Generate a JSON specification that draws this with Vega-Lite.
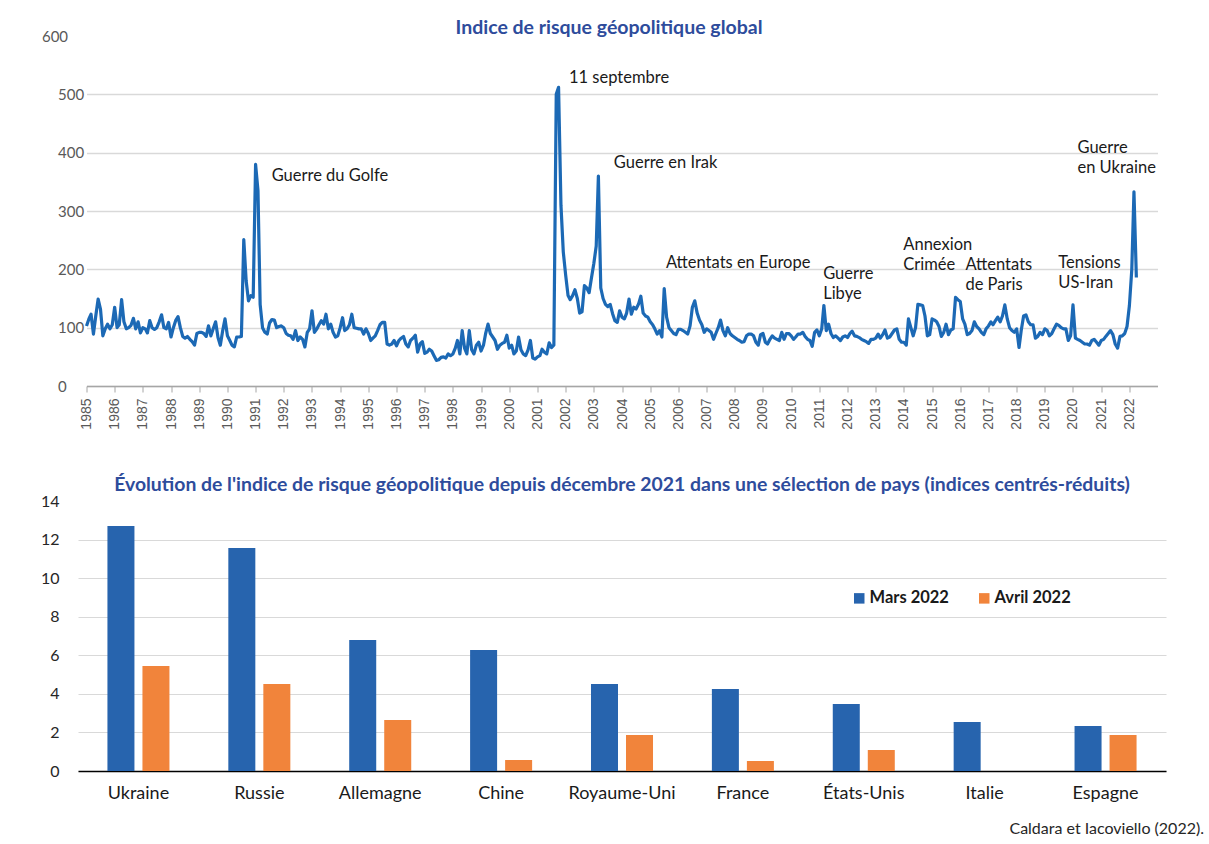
{
  "$schema": "https://vega.github.io/schema/vega-lite/v6.json",
  "background": "white",
  "padding": {"left": 40, "top": 17, "right": 2, "bottom": 6},
  "bounds": "flush",
  "center": true,
  "spacing": 115,
  "config": {"view": {"stroke": null}, "font": "Lato"},
  "title": {"text": "Caldara et Iacoviello (2022).", "orient": "bottom", "anchor": "end", "fontSize": 16, "fontWeight": "normal", "color": "#262626", "font": "Lato", "offset": 19, "dx": 38},
  "datasets": {
    "gpr": [
      {"d":"1985-01","v":103},{"d":"1985-02","v":115},{"d":"1985-03","v":123},{"d":"1985-04","v":89},{"d":"1985-05","v":120},{"d":"1985-06","v":149},{"d":"1985-07","v":132},{"d":"1985-08","v":86},{"d":"1985-09","v":98},{"d":"1985-10","v":106},{"d":"1985-11","v":98},{"d":"1985-12","v":105},
      {"d":"1986-01","v":135},{"d":"1986-02","v":100},{"d":"1986-03","v":105},{"d":"1986-04","v":148},{"d":"1986-05","v":110},{"d":"1986-06","v":98},{"d":"1986-07","v":100},{"d":"1986-08","v":104},{"d":"1986-09","v":116},{"d":"1986-10","v":98},{"d":"1986-11","v":110},{"d":"1986-12","v":91},
      {"d":"1987-01","v":100},{"d":"1987-02","v":98},{"d":"1987-03","v":91},{"d":"1987-04","v":112},{"d":"1987-05","v":100},{"d":"1987-06","v":97},{"d":"1987-07","v":100},{"d":"1987-08","v":110},{"d":"1987-09","v":122},{"d":"1987-10","v":100},{"d":"1987-11","v":98},{"d":"1987-12","v":109},
      {"d":"1988-01","v":84},{"d":"1988-02","v":100},{"d":"1988-03","v":112},{"d":"1988-04","v":119},{"d":"1988-05","v":100},{"d":"1988-06","v":85},{"d":"1988-07","v":82},{"d":"1988-08","v":85},{"d":"1988-09","v":80},{"d":"1988-10","v":76},{"d":"1988-11","v":70},{"d":"1988-12","v":90},
      {"d":"1989-01","v":92},{"d":"1989-02","v":92},{"d":"1989-03","v":90},{"d":"1989-04","v":85},{"d":"1989-05","v":103},{"d":"1989-06","v":86},{"d":"1989-07","v":98},{"d":"1989-08","v":110},{"d":"1989-09","v":83},{"d":"1989-10","v":70},{"d":"1989-11","v":95},{"d":"1989-12","v":115},
      {"d":"1990-01","v":86},{"d":"1990-02","v":78},{"d":"1990-03","v":70},{"d":"1990-04","v":67},{"d":"1990-05","v":84},{"d":"1990-06","v":84},{"d":"1990-07","v":85},{"d":"1990-08","v":251},{"d":"1990-09","v":180},{"d":"1990-10","v":146},{"d":"1990-11","v":155},{"d":"1990-12","v":152},
      {"d":"1991-01","v":380},{"d":"1991-02","v":335},{"d":"1991-03","v":140},{"d":"1991-04","v":100},{"d":"1991-05","v":92},{"d":"1991-06","v":89},{"d":"1991-07","v":108},{"d":"1991-08","v":114},{"d":"1991-09","v":113},{"d":"1991-10","v":100},{"d":"1991-11","v":102},{"d":"1991-12","v":103},
      {"d":"1992-01","v":100},{"d":"1992-02","v":90},{"d":"1992-03","v":87},{"d":"1992-04","v":86},{"d":"1992-05","v":80},{"d":"1992-06","v":95},{"d":"1992-07","v":78},{"d":"1992-08","v":84},{"d":"1992-09","v":80},{"d":"1992-10","v":67},{"d":"1992-11","v":92},{"d":"1992-12","v":98},
      {"d":"1993-01","v":129},{"d":"1993-02","v":92},{"d":"1993-03","v":97},{"d":"1993-04","v":105},{"d":"1993-05","v":112},{"d":"1993-06","v":106},{"d":"1993-07","v":123},{"d":"1993-08","v":98},{"d":"1993-09","v":106},{"d":"1993-10","v":92},{"d":"1993-11","v":84},{"d":"1993-12","v":86},
      {"d":"1994-01","v":100},{"d":"1994-02","v":117},{"d":"1994-03","v":95},{"d":"1994-04","v":98},{"d":"1994-05","v":105},{"d":"1994-06","v":123},{"d":"1994-07","v":100},{"d":"1994-08","v":99},{"d":"1994-09","v":98},{"d":"1994-10","v":98},{"d":"1994-11","v":89},{"d":"1994-12","v":98},
      {"d":"1995-01","v":90},{"d":"1995-02","v":78},{"d":"1995-03","v":82},{"d":"1995-04","v":86},{"d":"1995-05","v":95},{"d":"1995-06","v":105},{"d":"1995-07","v":109},{"d":"1995-08","v":109},{"d":"1995-09","v":72},{"d":"1995-10","v":70},{"d":"1995-11","v":72},{"d":"1995-12","v":78},
      {"d":"1996-01","v":69},{"d":"1996-02","v":78},{"d":"1996-03","v":82},{"d":"1996-04","v":85},{"d":"1996-05","v":72},{"d":"1996-06","v":67},{"d":"1996-07","v":78},{"d":"1996-08","v":82},{"d":"1996-09","v":87},{"d":"1996-10","v":58},{"d":"1996-11","v":72},{"d":"1996-12","v":76},
      {"d":"1997-01","v":56},{"d":"1997-02","v":58},{"d":"1997-03","v":63},{"d":"1997-04","v":60},{"d":"1997-05","v":52},{"d":"1997-06","v":44},{"d":"1997-07","v":45},{"d":"1997-08","v":49},{"d":"1997-09","v":50},{"d":"1997-10","v":48},{"d":"1997-11","v":55},{"d":"1997-12","v":52},
      {"d":"1998-01","v":55},{"d":"1998-02","v":65},{"d":"1998-03","v":78},{"d":"1998-04","v":55},{"d":"1998-05","v":95},{"d":"1998-06","v":65},{"d":"1998-07","v":55},{"d":"1998-08","v":95},{"d":"1998-09","v":62},{"d":"1998-10","v":55},{"d":"1998-11","v":70},{"d":"1998-12","v":75},
      {"d":"1999-01","v":60},{"d":"1999-02","v":70},{"d":"1999-03","v":90},{"d":"1999-04","v":106},{"d":"1999-05","v":90},{"d":"1999-06","v":84},{"d":"1999-07","v":78},{"d":"1999-08","v":63},{"d":"1999-09","v":70},{"d":"1999-10","v":73},{"d":"1999-11","v":75},{"d":"1999-12","v":87},
      {"d":"2000-01","v":65},{"d":"2000-02","v":70},{"d":"2000-03","v":55},{"d":"2000-04","v":60},{"d":"2000-05","v":84},{"d":"2000-06","v":62},{"d":"2000-07","v":55},{"d":"2000-08","v":52},{"d":"2000-09","v":62},{"d":"2000-10","v":78},{"d":"2000-11","v":48},{"d":"2000-12","v":46},
      {"d":"2001-01","v":50},{"d":"2001-02","v":52},{"d":"2001-03","v":63},{"d":"2001-04","v":58},{"d":"2001-05","v":55},{"d":"2001-06","v":74},{"d":"2001-07","v":66},{"d":"2001-08","v":70},{"d":"2001-09","v":500},{"d":"2001-10","v":512},{"d":"2001-11","v":310},{"d":"2001-12","v":230},
      {"d":"2002-01","v":190},{"d":"2002-02","v":155},{"d":"2002-03","v":148},{"d":"2002-04","v":155},{"d":"2002-05","v":165},{"d":"2002-06","v":150},{"d":"2002-07","v":125},{"d":"2002-08","v":127},{"d":"2002-09","v":172},{"d":"2002-10","v":168},{"d":"2002-11","v":160},{"d":"2002-12","v":185},
      {"d":"2003-01","v":210},{"d":"2003-02","v":240},{"d":"2003-03","v":360},{"d":"2003-04","v":168},{"d":"2003-05","v":150},{"d":"2003-06","v":140},{"d":"2003-07","v":136},{"d":"2003-08","v":140},{"d":"2003-09","v":124},{"d":"2003-10","v":112},{"d":"2003-11","v":109},{"d":"2003-12","v":129},
      {"d":"2004-01","v":118},{"d":"2004-02","v":115},{"d":"2004-03","v":125},{"d":"2004-04","v":149},{"d":"2004-05","v":123},{"d":"2004-06","v":135},{"d":"2004-07","v":132},{"d":"2004-08","v":140},{"d":"2004-09","v":154},{"d":"2004-10","v":125},{"d":"2004-11","v":120},{"d":"2004-12","v":118},
      {"d":"2005-01","v":110},{"d":"2005-02","v":105},{"d":"2005-03","v":98},{"d":"2005-04","v":89},{"d":"2005-05","v":95},{"d":"2005-06","v":84},{"d":"2005-07","v":167},{"d":"2005-08","v":118},{"d":"2005-09","v":100},{"d":"2005-10","v":95},{"d":"2005-11","v":90},{"d":"2005-12","v":88},
      {"d":"2006-01","v":97},{"d":"2006-02","v":97},{"d":"2006-03","v":95},{"d":"2006-04","v":92},{"d":"2006-05","v":89},{"d":"2006-06","v":103},{"d":"2006-07","v":135},{"d":"2006-08","v":146},{"d":"2006-09","v":125},{"d":"2006-10","v":113},{"d":"2006-11","v":105},{"d":"2006-12","v":92},
      {"d":"2007-01","v":98},{"d":"2007-02","v":95},{"d":"2007-03","v":92},{"d":"2007-04","v":80},{"d":"2007-05","v":90},{"d":"2007-06","v":100},{"d":"2007-07","v":113},{"d":"2007-08","v":95},{"d":"2007-09","v":86},{"d":"2007-10","v":100},{"d":"2007-11","v":90},{"d":"2007-12","v":86},
      {"d":"2008-01","v":83},{"d":"2008-02","v":80},{"d":"2008-03","v":78},{"d":"2008-04","v":75},{"d":"2008-05","v":76},{"d":"2008-06","v":86},{"d":"2008-07","v":89},{"d":"2008-08","v":89},{"d":"2008-09","v":86},{"d":"2008-10","v":75},{"d":"2008-11","v":70},{"d":"2008-12","v":88},
      {"d":"2009-01","v":90},{"d":"2009-02","v":75},{"d":"2009-03","v":72},{"d":"2009-04","v":80},{"d":"2009-05","v":86},{"d":"2009-06","v":82},{"d":"2009-07","v":80},{"d":"2009-08","v":78},{"d":"2009-09","v":92},{"d":"2009-10","v":80},{"d":"2009-11","v":90},{"d":"2009-12","v":90},
      {"d":"2010-01","v":86},{"d":"2010-02","v":80},{"d":"2010-03","v":84},{"d":"2010-04","v":89},{"d":"2010-05","v":89},{"d":"2010-06","v":92},{"d":"2010-07","v":85},{"d":"2010-08","v":80},{"d":"2010-09","v":78},{"d":"2010-10","v":68},{"d":"2010-11","v":92},{"d":"2010-12","v":96},
      {"d":"2011-01","v":86},{"d":"2011-02","v":98},{"d":"2011-03","v":138},{"d":"2011-04","v":95},{"d":"2011-05","v":106},{"d":"2011-06","v":90},{"d":"2011-07","v":83},{"d":"2011-08","v":86},{"d":"2011-09","v":82},{"d":"2011-10","v":78},{"d":"2011-11","v":84},{"d":"2011-12","v":86},
      {"d":"2012-01","v":83},{"d":"2012-02","v":90},{"d":"2012-03","v":94},{"d":"2012-04","v":86},{"d":"2012-05","v":85},{"d":"2012-06","v":83},{"d":"2012-07","v":80},{"d":"2012-08","v":78},{"d":"2012-09","v":76},{"d":"2012-10","v":73},{"d":"2012-11","v":80},{"d":"2012-12","v":80},
      {"d":"2013-01","v":82},{"d":"2013-02","v":89},{"d":"2013-03","v":82},{"d":"2013-04","v":88},{"d":"2013-05","v":96},{"d":"2013-06","v":82},{"d":"2013-07","v":84},{"d":"2013-08","v":90},{"d":"2013-09","v":96},{"d":"2013-10","v":98},{"d":"2013-11","v":80},{"d":"2013-12","v":75},
      {"d":"2014-01","v":75},{"d":"2014-02","v":70},{"d":"2014-03","v":115},{"d":"2014-04","v":100},{"d":"2014-05","v":86},{"d":"2014-06","v":100},{"d":"2014-07","v":140},{"d":"2014-08","v":139},{"d":"2014-09","v":138},{"d":"2014-10","v":120},{"d":"2014-11","v":86},{"d":"2014-12","v":88},
      {"d":"2015-01","v":115},{"d":"2015-02","v":113},{"d":"2015-03","v":110},{"d":"2015-04","v":102},{"d":"2015-05","v":85},{"d":"2015-06","v":92},{"d":"2015-07","v":106},{"d":"2015-08","v":88},{"d":"2015-09","v":96},{"d":"2015-10","v":98},{"d":"2015-11","v":152},{"d":"2015-12","v":148},
      {"d":"2016-01","v":145},{"d":"2016-02","v":115},{"d":"2016-03","v":106},{"d":"2016-04","v":88},{"d":"2016-05","v":90},{"d":"2016-06","v":95},{"d":"2016-07","v":110},{"d":"2016-08","v":102},{"d":"2016-09","v":98},{"d":"2016-10","v":92},{"d":"2016-11","v":88},{"d":"2016-12","v":98},
      {"d":"2017-01","v":103},{"d":"2017-02","v":110},{"d":"2017-03","v":105},{"d":"2017-04","v":112},{"d":"2017-05","v":118},{"d":"2017-06","v":110},{"d":"2017-07","v":120},{"d":"2017-08","v":139},{"d":"2017-09","v":115},{"d":"2017-10","v":100},{"d":"2017-11","v":95},{"d":"2017-12","v":92},
      {"d":"2018-01","v":98},{"d":"2018-02","v":66},{"d":"2018-03","v":95},{"d":"2018-04","v":120},{"d":"2018-05","v":122},{"d":"2018-06","v":110},{"d":"2018-07","v":105},{"d":"2018-08","v":105},{"d":"2018-09","v":82},{"d":"2018-10","v":85},{"d":"2018-11","v":92},{"d":"2018-12","v":88},
      {"d":"2019-01","v":98},{"d":"2019-02","v":95},{"d":"2019-03","v":86},{"d":"2019-04","v":90},{"d":"2019-05","v":98},{"d":"2019-06","v":106},{"d":"2019-07","v":104},{"d":"2019-08","v":100},{"d":"2019-09","v":98},{"d":"2019-10","v":98},{"d":"2019-11","v":78},{"d":"2019-12","v":86},
      {"d":"2020-01","v":139},{"d":"2020-02","v":82},{"d":"2020-03","v":80},{"d":"2020-04","v":78},{"d":"2020-05","v":75},{"d":"2020-06","v":72},{"d":"2020-07","v":72},{"d":"2020-08","v":70},{"d":"2020-09","v":78},{"d":"2020-10","v":80},{"d":"2020-11","v":75},{"d":"2020-12","v":70},
      {"d":"2021-01","v":78},{"d":"2021-02","v":80},{"d":"2021-03","v":85},{"d":"2021-04","v":90},{"d":"2021-05","v":95},{"d":"2021-06","v":88},{"d":"2021-07","v":72},{"d":"2021-08","v":65},{"d":"2021-09","v":85},{"d":"2021-10","v":86},{"d":"2021-11","v":90},{"d":"2021-12","v":102},
      {"d":"2022-01","v":138},{"d":"2022-02","v":200},{"d":"2022-03","v":333},{"d":"2022-04","v":186}
    ],
    "notes": [
      {"d":"1991-07-28","v":374,"label":"Guerre du Golfe"},
      {"d":"2002-02-13","v":542,"label":"11 septembre"},
      {"d":"2003-09-17","v":396,"label":"Guerre en Irak"},
      {"d":"2005-07-23","v":225,"label":"Attentats en Europe"},
      {"d":"2011-02-20","v":206,"label":"Guerre\nLibye"},
      {"d":"2013-12-24","v":255,"label":"Annexion\nCrimée"},
      {"d":"2016-03-08","v":221,"label":"Attentats\nde Paris"},
      {"d":"2019-06-24","v":225,"label":"Tensions\nUS-Iran"},
      {"d":"2020-02-28","v":422,"label":"Guerre\nen Ukraine"}
    ],
    "bars": [
      {"pays":"Ukraine","mois":"Mars 2022","valeur":12.7},
      {"pays":"Ukraine","mois":"Avril 2022","valeur":5.44},
      {"pays":"Russie","mois":"Mars 2022","valeur":11.56},
      {"pays":"Russie","mois":"Avril 2022","valeur":4.51},
      {"pays":"Allemagne","mois":"Mars 2022","valeur":6.79},
      {"pays":"Allemagne","mois":"Avril 2022","valeur":2.64},
      {"pays":"Chine","mois":"Mars 2022","valeur":6.27},
      {"pays":"Chine","mois":"Avril 2022","valeur":0.57},
      {"pays":"Royaume-Uni","mois":"Mars 2022","valeur":4.51},
      {"pays":"Royaume-Uni","mois":"Avril 2022","valeur":1.87},
      {"pays":"France","mois":"Mars 2022","valeur":4.25},
      {"pays":"France","mois":"Avril 2022","valeur":0.52},
      {"pays":"États-Unis","mois":"Mars 2022","valeur":3.47},
      {"pays":"États-Unis","mois":"Avril 2022","valeur":1.09},
      {"pays":"Italie","mois":"Mars 2022","valeur":2.54},
      {"pays":"Espagne","mois":"Mars 2022","valeur":2.33},
      {"pays":"Espagne","mois":"Avril 2022","valeur":1.87}
    ]
  },
  "vconcat": [
    {
      "width": 1071,
      "height": 350,
      "title": {"text": "Indice de risque géopolitique global", "fontSize": 19.5, "font": "Lato", "fontWeight": "bold", "color": "#2E4C9C", "offset": -9, "dx": -13},
      "layer": [
        {
          "data": {"name": "gpr"},
          "mark": {"type": "line", "color": "#1C69B5", "strokeWidth": 3.2, "strokeJoin": "round"},
          "encoding": {
            "x": {"field": "d", "type": "temporal",
              "scale": {"domain": [{"year": 1985, "month": 1, "date": 1}, {"year": 2022, "month": 12, "date": 31}]},
              "axis": {"title": null, "tickCount": {"interval": "year", "step": 1}, "format": "%Y", "labelAngle": -90, "labelFont": "Liberation Sans", "labelFontSize": 14, "labelColor": "#595959", "domainColor": "#A6A6A6", "domainWidth": 1.5, "tickColor": "#A6A6A6", "tickSize": 6, "labelPadding": 6, "grid": false, "labelOverlap": false, "labelFlush": false}},
            "y": {"field": "v", "type": "quantitative",
              "scale": {"domain": [0, 600]},
              "axis": {"title": null, "values": [0, 100, 200, 300, 400, 500, 600], "domain": false, "ticks": false, "labelAlign": {"condition": {"test": "datum.value == 600", "value": "center"}, "value": "left"}, "labelPadding": {"condition": {"test": "datum.value == 600", "value": 32}, "value": 29}, "labelFont": "Lato", "labelFontSize": 15, "labelColor": "#595959", "gridColor": "#D9D9D9", "gridWidth": 1.5, "gridOpacity": {"condition": {"test": "datum.value == 600", "value": 0}, "value": 1}}}
          }
        },
        {
          "data": {"name": "notes"},
          "mark": {"type": "text", "align": "left", "baseline": "top", "fontSize": 16.5, "font": "Lato", "color": "#1a1a1a", "lineBreak": "\n", "lineHeight": 20},
          "encoding": {
            "x": {"field": "d", "type": "temporal"},
            "y": {"field": "v", "type": "quantitative"},
            "text": {"field": "label", "type": "nominal"}
          }
        }
      ]
    },
    {
      "width": 1088,
      "height": 270,
      "title": {"text": "Évolution de l'indice de risque géopolitique depuis décembre 2021 dans une sélection de pays (indices centrés-réduits)", "fontSize": 19.4, "font": "Lato", "fontWeight": "bold", "color": "#2E4C9C", "offset": -2},
      "data": {"name": "bars"},
      "mark": {"type": "bar"},
      "encoding": {
        "x": {"field": "pays", "type": "nominal", "sort": null,
          "scale": {"paddingInner": 0.487, "paddingOuter": 0.2435},
          "axis": {"title": null, "labelAngle": 0, "ticks": false, "domainColor": "#000000", "domainWidth": 1.5, "labelFont": "Lato", "labelFontSize": 18, "labelColor": "#1a1a1a", "labelPadding": 13}},
        "xOffset": {"field": "mois", "type": "nominal", "sort": ["Mars 2022", "Avril 2022"], "scale": {"paddingInner": 0.2286, "paddingOuter": 0}},
        "y": {"field": "valeur", "type": "quantitative",
          "scale": {"domain": [0, 14]},
          "axis": {"title": null, "values": [0, 2, 4, 6, 8, 10, 12, 14], "domain": false, "ticks": false, "labelPadding": 19, "labelFont": "Lato", "labelFontSize": 16, "labelColor": "#262626", "gridColor": "#D9D9D9", "gridOpacity": {"condition": {"test": "datum.value == 14", "value": 0}, "value": 1}}},
        "color": {"field": "mois", "type": "nominal",
          "scale": {"domain": ["Mars 2022", "Avril 2022"], "range": ["#2764AE", "#F1843B"]},
          "legend": {"title": null, "orient": "none", "legendX": 773, "legendY": 554, "direction": "horizontal", "symbolType": "square", "symbolSize": 110, "symbolStrokeWidth": 0, "labelFont": "Lato", "labelFontSize": 16.5, "labelFontWeight": "bold", "labelColor": "#1a1a1a", "columnPadding": 27, "labelOffset": 2}}
      }
    }
  ]
}
